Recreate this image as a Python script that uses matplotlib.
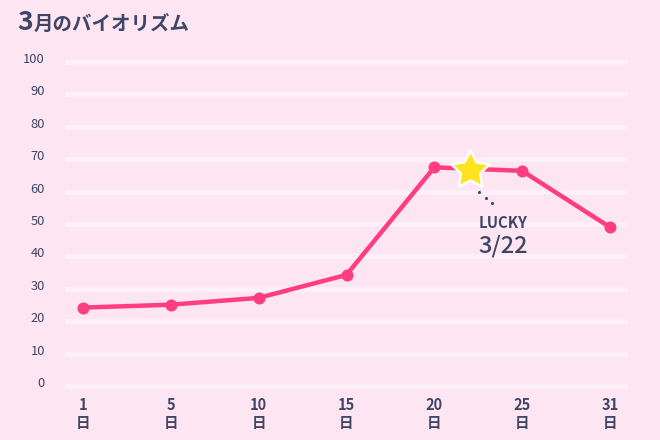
import matplotlib
matplotlib.use("Agg")
import matplotlib.pyplot as plt
import matplotlib.transforms as mtransforms
import numpy as np
from matplotlib.path import Path

plt.rcParams['font.family'] = ['Noto Sans CJK JP', 'DejaVu Sans']

days = ["1", "5", "10", "15", "20", "25", "31"]
values = [24.2, 25.1, 27.2, 34.3, 67.5, 66.4, 49.0]
lucky_pos = 4.41
lucky_value = 66.8
lucky_label = "3/22"
yticks = list(range(0, 101, 10))

BG = "#fde5f2"
GRID = "#fdf0f7"
LINE = "#ff3d7f"
TXT = "#3e4566"

fig = plt.figure(figsize=(6.6, 4.4), dpi=100)
fig.patch.set_facecolor(BG)
ax = fig.add_axes([65/660, (440-392.5)/440, (628-65)/660, (392.5-55.5)/440])
ax.set_facecolor(BG)

x = np.arange(len(days))
ax.set_xlim(-0.205, len(days) - 1 + 0.205)
ax.set_ylim(-2, 102)

for t in yticks:
    ax.axhline(t, color=GRID, lw=3.5, zorder=1)

ax.plot(x, values, color=LINE, lw=3.2, zorder=3, solid_capstyle='round')
ax.scatter(x, values, s=75, color=LINE, zorder=4, linewidths=0)

# star marker
n = 5
ang = np.pi/2 + np.arange(2*n) * np.pi/n
r = np.where(np.arange(2*n) % 2 == 0, 1.0, 0.5)
verts = np.column_stack([r*np.cos(ang), r*np.sin(ang)])
verts = np.vstack([verts, verts[0]])
codes = [Path.MOVETO] + [Path.LINETO]*(2*n-1) + [Path.CLOSEPOLY]
star = Path(verts, codes)
ax.plot([lucky_pos], [lucky_value], marker=star, markersize=29, color="#ffe31f",
        markeredgecolor="white", markeredgewidth=1.8, zorder=6, linestyle='none')

# dots
ax.scatter([4.51, 4.585, 4.66], [59.9, 58.1, 56.4], s=5, color=TXT, zorder=5, linewidths=0)
ax.text(4.78, 50.3, "LUCKY", ha='center', va='center', fontsize=10.8, fontweight='bold', color=TXT)
ax.text(4.78, 43.3, lucky_label, ha='center', va='center', fontsize=17, fontweight='medium', color=TXT)

for s in ax.spines.values():
    s.set_visible(False)
ax.set_yticks(yticks)
ax.set_yticklabels([str(t) for t in yticks], fontsize=9.3, color=TXT)
ax.set_xticks(x)
ax.set_xticklabels([d + "\n日" for d in days], fontsize=10.5, color=TXT, fontweight='bold', linespacing=1.2)
ax.tick_params(axis='y', length=0, pad=14.4)
ax.tick_params(axis='x', length=0, pad=3)
off = mtransforms.ScaledTranslation(0, 4/100, fig.dpi_scale_trans)
for lab in ax.get_yticklabels():
    lab.set_transform(lab.get_transform() + off)

fig.text(17/660, 1 - 23/440, "3", fontsize=19, fontweight='bold', color=TXT, va='center', ha='left')
fig.text(34/660, 1 - 24/440, "月のバイオリズム", fontsize=14, fontweight='bold', color=TXT, va='center', ha='left')

fig.savefig("out.png", dpi=100, facecolor=BG)
